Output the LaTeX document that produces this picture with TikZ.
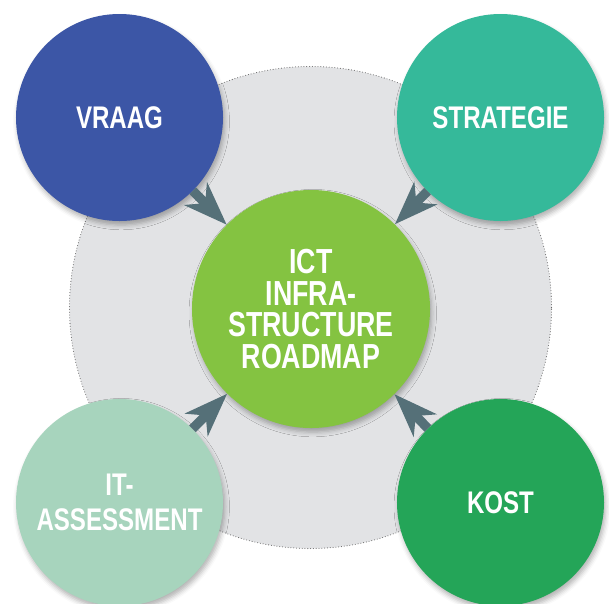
\documentclass[tikz,border=0pt]{standalone}
\usepackage{fontspec}
\setmainfont[FakeStretch=0.77]{Liberation Sans}
\usetikzlibrary{arrows.meta,shadows.blur}
\definecolor{vraagblauw}{HTML}{3C56A6}
\definecolor{strategieteal}{HTML}{35B99A}
\definecolor{assessmentmint}{HTML}{A7D4BD}
\definecolor{kostgroen}{HTML}{24A558}
\definecolor{roadmapgroen}{HTML}{84C341}
\definecolor{achtergrondgrijs}{HTML}{E2E3E5}
\definecolor{pijlgrijs}{HTML}{557078}
\begin{document}
\begin{tikzpicture}[x=0.03cm,y=-0.03cm,
    schaduw/.style={blur shadow={shadow xshift=1.5pt,shadow yshift=-3.5pt,shadow blur radius=4pt,shadow opacity=30}},
    bol/.style={circle,inner sep=0pt,minimum size=6.21cm,text=white,align=center,schaduw,
        font=\bfseries\fontsize{26.7}{29.8}\selectfont},
    pijl/.style={-{Stealth[length=37pt,width=27pt,inset=11pt]},line width=8pt,color=pijlgrijs}]
    \useasboundingbox (0,0) rectangle (609,603);
    % achtergrond
    \node[circle,inner sep=0pt,minimum size=14.46cm,fill=achtergrondgrijs,draw=gray!80!black,
        line width=0.9pt,line cap=round,dash pattern=on 0pt off 2.4pt] (cirkel) at (310.5,307.5) {};
    \node[bol,fill=roadmapgroen,minimum size=7.14cm,
        font=\bfseries\fontsize{29.7}{27.2}\selectfont] (roadmap) at (311,309)
        {ICT\\INFRA-\\STRUCTURE\\ROADMAP};
    \node[bol,fill=vraagblauw] (vraag) at (119.5,117.5) {VRAAG};
    \node[bol,fill=strategieteal] (strategie) at (500.5,117.5) {STRATEGIE};
    \node[bol,fill=assessmentmint] (assessment) at (119.5,502.5) {IT-\\ASSESSMENT};
    \node[bol,fill=kostgroen] (kost) at (500.5,502.5) {KOST};
    % pijlen
    \draw[pijl] (vraag) -- (roadmap);
    \draw[pijl] (strategie) -- (roadmap);
    \draw[pijl] (assessment) -- (roadmap);
    \draw[pijl] (kost) -- (roadmap);
\end{tikzpicture}
\end{document}
